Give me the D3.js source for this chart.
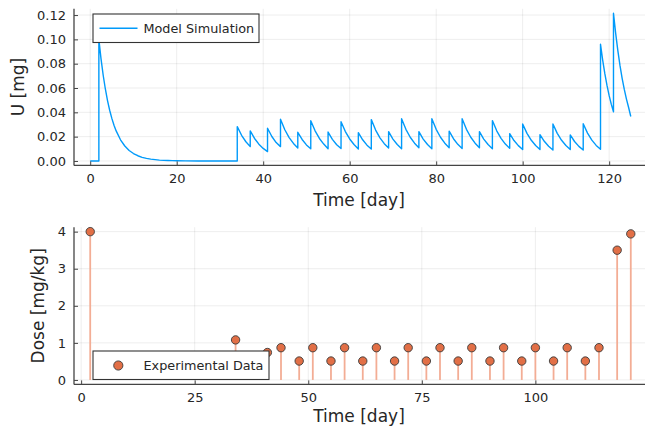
<!DOCTYPE html>
<html>
<head>
<meta charset="utf-8">
<script src="https://cdn.jsdelivr.net/npm/d3@7"></script>
<style>
  html, body { margin: 0; padding: 0; background: #fff; }
  svg { display: block; font-family: "DejaVu Sans", sans-serif; }
</style>
</head>
<body>
<svg id="chart" width="645" height="430"></svg>
<script>
// ---- Model simulation (top panel) ----
const simTime = [
  0, 2, 2, 2.5, 3, 3.5, 4, 4.5, 5, 5.5, 6, 7, 8, 9, 10, 11, 12, 13, 14, 15, 16, 17, 18, 19, 20, 22, 25, 34,
  34, 35, 36, 37,
  37, 38, 39, 40, 41,
  41, 42, 43, 44,
  44, 45, 46, 47, 48,
  48, 49, 50, 51,
  51, 52, 53, 54, 55,
  55, 56, 57, 58,
  58, 59, 60, 61, 62,
  62, 63, 64, 65,
  65, 66, 67, 68, 69,
  69, 70, 71, 72,
  72, 73, 74, 75, 76,
  76, 77, 78, 79,
  79, 80, 81, 82, 83,
  83, 84, 85, 86,
  86, 87, 88, 89, 90,
  90, 91, 92, 93,
  93, 94, 95, 96, 97,
  97, 98, 99, 100,
  100, 101, 102, 103, 104,
  104, 105, 106, 107,
  107, 108, 109, 110, 111,
  111, 112, 113, 114,
  114, 115, 116, 117, 118,
  118, 118.5, 119, 119.5, 120, 120.5, 121,
  121, 121.5, 122, 122.5, 123, 123.5, 124, 124.5, 125
];
const simU = [
  0, 0, 0.1, 0.084, 0.0705, 0.0592, 0.0497, 0.0417, 0.035, 0.0294, 0.0247, 0.0174, 0.0123, 0.0086, 0.0061, 0.0043, 0.003, 0.0021, 0.0015, 0.0011, 0.0007, 0.0005, 0.0004, 0.0003, 0.0002, 0.0001, 0, 0,
  0.0282, 0.0211, 0.0158, 0.0118,
  0.0247, 0.0185, 0.0138, 0.0103, 0.0077,
  0.0269, 0.0201, 0.0151, 0.0118,
  0.0343, 0.0257, 0.0192, 0.0144, 0.0107,
  0.0236, 0.0177, 0.0132, 0.0101,
  0.0331, 0.0248, 0.0185, 0.0139, 0.0100,
  0.0238, 0.0178, 0.0133, 0.0102,
  0.0323, 0.0242, 0.0181, 0.0135, 0.0099,
  0.0233, 0.0174, 0.0130, 0.0098,
  0.0340, 0.0254, 0.0190, 0.0142, 0.0106,
  0.0241, 0.0180, 0.0135, 0.0101,
  0.0348, 0.0260, 0.0195, 0.0146, 0.0109,
  0.0241, 0.0180, 0.0135, 0.0101,
  0.0348, 0.0260, 0.0195, 0.0146, 0.0109,
  0.0245, 0.0183, 0.0137, 0.0103,
  0.0348, 0.0260, 0.0195, 0.0146, 0.0109,
  0.0241, 0.0180, 0.0135, 0.0101,
  0.0332, 0.0248, 0.0186, 0.0139, 0.0104,
  0.0225, 0.0168, 0.0126, 0.0094,
  0.0304, 0.0227, 0.0170, 0.0127, 0.0095,
  0.0216, 0.0162, 0.0121, 0.0090,
  0.0304, 0.0227, 0.0170, 0.0127, 0.0095,
  0.0214, 0.0160, 0.0120, 0.0090,
  0.0306, 0.0229, 0.0171, 0.0128, 0.0096,
  0.0960, 0.0830, 0.0718, 0.0621, 0.0537, 0.0465, 0.0405,
  0.1215, 0.1051, 0.0909, 0.0786, 0.0680, 0.0588, 0.0509, 0.0440, 0.0366
];

// ---- Experimental doses (bottom panel) ----
const doseDay = [2, 34, 37, 41, 44, 48, 51, 55, 58, 62, 65, 69, 72, 76, 79, 83, 86, 90, 93, 97, 100, 104, 107, 111, 114, 118, 121];
const doseValue = [4.0, 1.08, 0.5, 0.74, 0.87, 0.51, 0.87, 0.51, 0.87, 0.51, 0.87, 0.51, 0.87, 0.51, 0.87, 0.51, 0.87, 0.51, 0.87, 0.51, 0.87, 0.51, 0.87, 0.51, 0.87, 3.5, 3.94];

// ---- Ticks & labels ----
const topXTicks = [0, 20, 40, 60, 80, 100, 120];
const topYTicks = [0, 0.02, 0.04, 0.06, 0.08, 0.10, 0.12];
const botXTicks = [0, 25, 50, 75, 100];
const botYTicks = [0, 1, 2, 3, 4];
const topXLabel = "Time [day]", topYLabel = "U [mg]";
const botXLabel = "Time [day]", botYLabel = "Dose [mg/kg]";
const topLegend = "Model Simulation", botLegend = "Experimental Data";

const blue = "#009AFA", orange = "#E26F46", stem = "#F3AD95";
const axisColor = "#444", gridColor = "rgba(0,0,0,0.09)", textColor = "#262626";

const svg = d3.select("#chart");

function panel(opts) {
  const g = svg.append("g");
  const x = opts.x, y = opts.y;
  const [x0, x1] = x.range(), [yb, yt] = y.range();
  g.append("g").selectAll("line").data(opts.xTicks).join("line")
    .attr("x1", d => x(d)).attr("x2", d => x(d)).attr("y1", yt).attr("y2", yb)
    .attr("stroke", gridColor).attr("stroke-width", 0.8);
  g.append("g").selectAll("line").data(opts.yTicks).join("line")
    .attr("x1", x0).attr("x2", x1).attr("y1", d => y(d)).attr("y2", d => y(d))
    .attr("stroke", gridColor).attr("stroke-width", 0.8);
  return g;
}

function axes(g, x, y, xTicks, yTicks, yFmt, xLabel, yLabel, xLabY, yLabX) {
  const [x0, x1] = x.range(), [yb, yt] = y.range();
  const ax = g.append("g").attr("transform", `translate(0,${yb})`)
    .call(d3.axisBottom(x).tickValues(xTicks).tickSize(-4).tickPadding(8).tickFormat(d3.format("d")));
  ax.select(".domain").remove();
  ax.selectAll(".tick line").attr("stroke", axisColor).attr("stroke-width", 1);
  ax.selectAll(".tick text").attr("font-size", 13).attr("fill", textColor).attr("font-family", "DejaVu Sans");
  const ay = g.append("g").attr("transform", `translate(${x0},0)`)
    .call(d3.axisLeft(y).tickValues(yTicks).tickSize(-4).tickPadding(8).tickFormat(yFmt));
  ay.select(".domain").remove();
  ay.selectAll(".tick line").attr("stroke", axisColor).attr("stroke-width", 1);
  ay.selectAll(".tick text").attr("font-size", 13).attr("fill", textColor).attr("font-family", "DejaVu Sans");
  g.append("line").attr("x1", x0).attr("x2", x1).attr("y1", yb).attr("y2", yb)
    .attr("stroke", axisColor).attr("stroke-width", 1.3);
  g.append("line").attr("x1", x0).attr("x2", x0).attr("y1", yt).attr("y2", yb)
    .attr("stroke", axisColor).attr("stroke-width", 1.3);
  g.append("text").attr("x", (x0 + 645) / 2 - 0.5).attr("y", xLabY)
    .attr("text-anchor", "middle").attr("font-size", 17).attr("fill", textColor).text(xLabel);
  g.append("text").attr("transform", `translate(${yLabX},${(yt + yb) / 2}) rotate(-90)`)
    .attr("text-anchor", "middle").attr("dominant-baseline", "central")
    .attr("font-size", 17).attr("fill", textColor).text(yLabel);
}

// ---- Top panel ----
const xTop = d3.scaleLinear().domain([-3.75, 128.75]).range([74, 647]);
const yTop = d3.scaleLinear().domain([-0.00365, 0.12515]).range([165.4, 8.8]);
const gTop = panel({ x: xTop, y: yTop, xTicks: topXTicks, yTicks: topYTicks });

const line = d3.line().x((d, i) => xTop(simTime[i])).y((d, i) => yTop(simU[i]));
gTop.append("path").datum(simU).attr("d", line)
  .attr("fill", "none").attr("stroke", blue).attr("stroke-width", 1.4).attr("stroke-linejoin", "round");

axes(gTop, xTop, yTop, topXTicks, topYTicks, d3.format(".2f"), topXLabel, topYLabel, 206, 18);

// legend top
const lt = gTop.append("g");
lt.append("rect").attr("x", 93).attr("y", 14).attr("width", 166).attr("height", 28.5)
  .attr("fill", "#fff").attr("stroke", "#333").attr("stroke-width", 1.1);
lt.append("line").attr("x1", 99.5).attr("x2", 137.5).attr("y1", 28.3).attr("y2", 28.3)
  .attr("stroke", blue).attr("stroke-width", 1.4);
lt.append("text").attr("x", 143.5).attr("y", 28.3).attr("dominant-baseline", "central")
  .attr("font-size", 12.8).attr("fill", textColor).text(topLegend);

// ---- Bottom panel ----
const xBot = d3.scaleLinear().domain([-1.57, 124.57]).range([74, 647]);
const yBot = d3.scaleLinear().domain([-0.12, 4.12]).range([384.4, 227.2]);
const gBot = panel({ x: xBot, y: yBot, xTicks: botXTicks, yTicks: botYTicks });

gBot.append("g").selectAll("line").data(doseDay).join("line")
  .attr("x1", d => xBot(d)).attr("x2", d => xBot(d))
  .attr("y1", yBot(0)).attr("y2", (d, i) => yBot(doseValue[i]))
  .attr("stroke", stem).attr("stroke-width", 1.8);
gBot.append("g").selectAll("circle").data(doseDay).join("circle")
  .attr("cx", d => xBot(d)).attr("cy", (d, i) => yBot(doseValue[i])).attr("r", 4.2)
  .attr("fill", orange).attr("stroke", "#3a3a3a").attr("stroke-width", 0.9);

axes(gBot, xBot, yBot, botXTicks, botYTicks, d3.format("d"), botXLabel, botYLabel, 422, 38);

// legend bottom
const lb = gBot.append("g");
lb.append("rect").attr("x", 93).attr("y", 351).attr("width", 176).attr("height", 28.5)
  .attr("fill", "#fff").attr("stroke", "#333").attr("stroke-width", 1.1);
lb.append("circle").attr("cx", 118.3).attr("cy", 365.5).attr("r", 4.6)
  .attr("fill", orange).attr("stroke", "#3a3a3a").attr("stroke-width", 0.9);
lb.append("text").attr("x", 143.5).attr("y", 365.5).attr("dominant-baseline", "central")
  .attr("font-size", 12.8).attr("fill", textColor).text(botLegend);
</script>
</body>
</html>
